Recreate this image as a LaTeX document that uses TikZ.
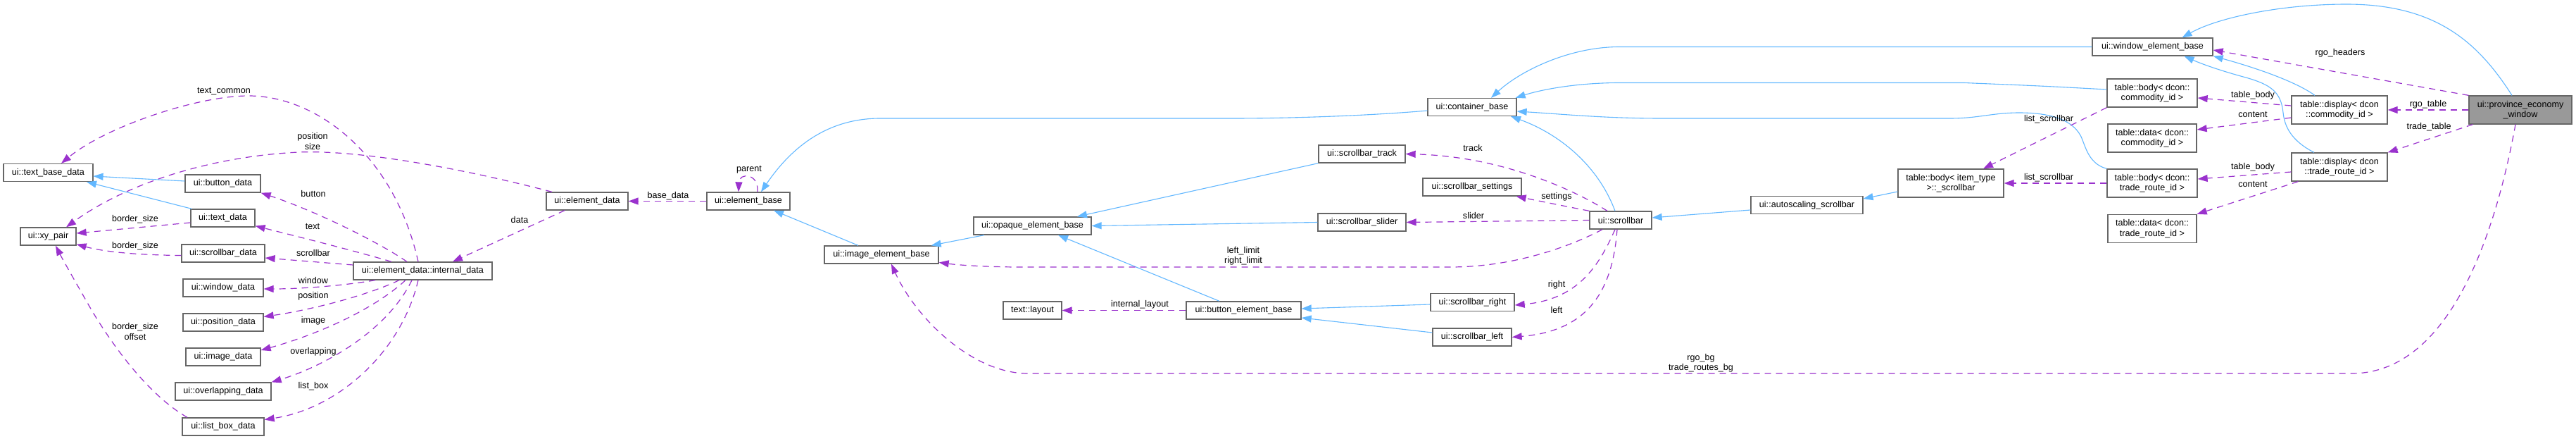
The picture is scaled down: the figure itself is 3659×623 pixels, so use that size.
\documentclass[tikz,border=0pt]{standalone}
\usepackage{fontspec}
\setmainfont{Liberation Sans}
\usetikzlibrary{arrows.meta}
\definecolor{inhblue}{HTML}{63B8FF}
\definecolor{memb}{HTML}{9A32CD}
\definecolor{boxgray}{HTML}{666666}
\definecolor{focusfill}{HTML}{999999}
\newcommand\dxfont{\fontsize{12.6}{14.5}\selectfont}
\begin{document}
\begin{tikzpicture}[x=1pt,y=-1pt,
  nd/.style={draw=boxgray, fill=white, line width=1.3pt, inner sep=0pt, minimum height=25pt, align=center, font=\dxfont},
  nd2/.style={nd, minimum height=40pt},
  lbl/.style={inner sep=0pt, align=center, font=\dxfont},
  inh/.style={draw=inhblue, line width=1.1pt, -{Triangle[length=14pt,width=10pt]}},
  mem/.style={draw=memb, line width=1.2pt, dash pattern=on 9pt off 7pt, -{Triangle[length=14pt,width=10pt]}}]
\useasboundingbox[fill=white] (0,0) rectangle (3659,623);
% nodes
\node[nd, minimum width=127] (tbd) at (68.4,245) {ui::text\_base\_data};
\node[nd, minimum width=79] (xy) at (68.5,335.5) {ui::xy\_pair};
\node[nd, minimum width=107] (btn) at (316.5,260.5) {ui::button\_data};
\node[nd, minimum width=91] (txt) at (316.5,309.5) {ui::text\_data};
\node[nd, minimum width=118] (sbd) at (317,359.5) {ui::scrollbar\_data};
\node[nd, minimum width=197] (int) at (600.5,384.5) {ui::element\_data::internal\_data};
\node[nd, minimum width=114] (wnd) at (317,408.5) {ui::window\_data};
\node[nd, minimum width=114] (pos) at (317,457.5) {ui::position\_data};
\node[nd, minimum width=106] (img) at (317,506.5) {ui::image\_data};
\node[nd, minimum width=136] (ovl) at (317,555.5) {ui::overlapping\_data};
\node[nd, minimum width=116] (lbd) at (317,605.5) {ui::list\_box\_data};
\node[nd, minimum width=116] (eld) at (834,285.5) {ui::element\_data};
\node[nd, minimum width=118] (elb) at (1063,285.5) {ui::element\_base};
\node[nd, minimum width=162] (ieb) at (1252,361.5) {ui::image\_element\_base};
\node[nd, minimum width=167] (oeb) at (1466.5,320.5) {ui::opaque\_element\_base};
\node[nd, minimum width=123] (trk) at (1934.5,218.5) {ui::scrollbar\_track};
\node[nd, minimum width=125] (sld) at (1934.5,315.5) {ui::scrollbar\_slider};
\node[nd, minimum width=83] (lay) at (1466.5,440.5) {text::layout};
\node[nd, minimum width=163] (beb) at (1766.5,440.5) {ui::button\_element\_base};
\node[nd, minimum width=126] (cnt) at (2091,152) {ui::container\_base};
\node[nd, minimum width=140] (sset) at (2091,265.5) {ui::scrollbar\_settings};
\node[nd, minimum width=88] (sb) at (2302,312.5) {ui::scrollbar};
\node[nd, minimum width=159] (asb) at (2566.5,291) {ui::autoscaling\_scrollbar};
\node[nd, minimum width=119] (sbr) at (2091.5,429) {ui::scrollbar\_right};
\node[nd, minimum width=112] (sbl) at (2091,478.5) {ui::scrollbar\_left};
\node[nd, minimum width=171] (web) at (3057.5,66.5) {ui::window\_element\_base};
\node[nd2, minimum width=128] (bcm) at (3057,132) {table::body< dcon::\\commodity\_id >};
\node[nd2, minimum width=126] (dcm) at (3057,196) {table::data< dcon::\\commodity\_id >};
\node[nd2, minimum width=150] (bit) at (2771,260) {table::body< item\_type\\>::\_scrollbar};
\node[nd2, minimum width=128] (btr) at (3057,260) {table::body< dcon::\\trade\_route\_id >};
\node[nd2, minimum width=126] (dtr) at (3057,324.5) {table::data< dcon::\\trade\_route\_id >};
\node[nd2, minimum width=136] (dsc) at (3323,156) {table::display< dcon\\::commodity\_id >};
\node[nd2, minimum width=136] (dst) at (3323,237) {table::display< dcon\\::trade\_route\_id >};
\node[nd2, minimum width=146, fill=focusfill] (pew) at (3580,156) {ui::province\_economy\\\_window};
% inheritance edges
\draw[inh] ([yshift=3.5]btn.west) -- ([yshift=-5]tbd.east);
\draw[inh] ([xshift=2]txt.north west) -- ([xshift=54.6]tbd.south);
\draw[inh] ([xshift=-33]ieb.north) -- ([xshift=36]elb.south);
\draw[inh] ([yshift=-5]cnt.west) .. controls (1960,163) and (1850,168) .. (1750,168) -- (1250,168) .. controls (1170,168) and (1120,215) .. ([xshift=18]elb.north);
\draw[inh] ([xshift=-68.5]oeb.south) -- ([xshift=-11]ieb.north east);
\draw[inh] (trk.south west) -- ([xshift=63.5]oeb.north);
\draw[inh] (sld.west) -- (oeb.east);
\draw[inh] ([xshift=-34.5]beb.north) -- ([xshift=36.5]oeb.south);
\draw[inh] ([yshift=-3]sbr.west) -- ([yshift=2.5]beb.east);
\draw[inh] ([yshift=6.5]sbl.west) -- ([yshift=-10.5]beb.east);
\draw[inh] ([xshift=-8]sb.north) .. controls (2270,235) and (2215,190) .. ([xshift=55]cnt.south);
\draw[inh] ([yshift=-7]asb.west) -- ([yshift=3.5]sb.east);
\draw[inh] ([yshift=-12]bit.west) -- ([yshift=9]asb.east);
\draw[inh] (web.west) -- (2300,66.5) .. controls (2230,66.5) and (2160,100) .. ([xshift=27]cnt.north);
\draw[inh] ([yshift=5]bcm.west) .. controls (2900,122) .. (2790,117.5) -- (2300,117.5) .. controls (2240,117.5) and (2190,127) .. ([xshift=-2]cnt.north east);
\draw[inh] (btr.north west) .. controls (2965,232) and (2962,205) .. (2955,192) .. controls (2940,165) and (2900,160) .. (2868,160) .. controls (2830,160) and (2810,168) .. (2770,168) -- (2360,168) .. controls (2280,168) and (2220,162) .. ([yshift=-6]cnt.east);
\draw[inh] ([xshift=-12]pew.north) .. controls (3520,60) and (3460,6) .. (3333,6) .. controls (3240,6) and (3150,25) .. ([xshift=42]web.north);
\draw[inh] ([xshift=-35]dsc.north) .. controls (3260,115) and (3200,95) .. (web.south east);
\draw[inh] ([xshift=-36]dst.north) .. controls (3255,200) and (3245,180) .. (3243,160) .. controls (3240,130) and (3225,120) .. (3190,110) .. controls (3160,102) and (3130,92) .. ([xshift=45]web.south);
% member edges
\draw[mem] ([xshift=-6.5]int.north) .. controls (560,220) and (450,136) .. (353,136) .. controls (280,136) and (150,180) .. ([xshift=18.6]tbd.north);
\draw[mem] ([xshift=-50]eld.north) .. controls (680,245) and (520,212) .. (424,216) .. controls (300,222) and (180,260) .. ([xshift=25.5]xy.north);
\draw[mem] ([yshift=-6.5]txt.west) -- ([yshift=4.5]xy.east);
\draw[mem] ([yshift=-3]sbd.west) .. controls (200,362) and (150,358) .. ([yshift=2]xy.south east);
\draw[mem] ([xshift=-51]lbd.north) .. controls (210,560) and (160,490) .. (130,440) .. controls (110,405) and (90,370) .. ([xshift=10.5]xy.south);
\draw[mem] ([xshift=-22.5]int.north) .. controls (540,345) and (450,300) .. (btn.south east);
\draw[mem] ([xshift=-44.5]int.north) .. controls (500,355) and (420,335) .. ([yshift=2]txt.south east);
\draw[mem] ([yshift=8.5]int.west) -- ([yshift=-6.5]sbd.east);
\draw[mem] ([xshift=-67.5]int.south) .. controls (490,405) and (430,410) .. ([yshift=-1.5]wnd.east);
\draw[mem] ([xshift=-33.5]int.south) .. controls (520,420) and (440,440) .. ([yshift=8]pos.east);
\draw[mem] ([xshift=-24.5]int.south) .. controls (530,440) and (450,475) .. ([yshift=9.5]img.east);
\draw[mem] ([xshift=-15.5]int.south) .. controls (550,470) and (460,520) .. (ovl.north east);
\draw[mem] ([xshift=-6.5]int.south) .. controls (570,500) and (480,580) .. ([yshift=10]lbd.east);
\draw[mem] ([xshift=-32]eld.south) -- ([xshift=42.5]int.north);
\draw[mem] (elb.west) -- (eld.east);
\draw[mem] ([xshift=13]elb.north) .. controls (1078,245) and (1050,245) .. ([xshift=-14]elb.north);
\draw[mem] ([xshift=-19]sb.north) .. controls (2245,275) and (2140,222) .. (trk.east);
\draw[mem] (sb.north west) .. controls (2220,292) .. ([xshift=-8]sset.south east);
\draw[mem] (sb.west) -- (sld.east);
\draw[mem] ([xshift=-26]sb.south) .. controls (2230,350) and (2150,379) .. (2060,379) -- (1450,379) .. controls (1400,379) and (1360,376) .. ([yshift=-11]ieb.east);
\draw[mem] ([xshift=-8]sb.south) .. controls (2270,380) and (2240,425) .. ([yshift=-4]sbr.east);
\draw[mem] ([xshift=-5]sb.south) .. controls (2290,420) and (2250,470) .. (sbl.east);
\draw[mem] (beb.west) -- (lay.east);
\draw[mem] (bcm.south west) -- ([xshift=46]bit.north);
\draw[mem] (btr.west) -- (bit.east);
\draw[mem] ([yshift=6]dsc.west) -- ([yshift=-7]bcm.east);
\draw[mem] ([yshift=-11]dsc.west) -- ([yshift=12]dcm.east);
\draw[mem] ([yshift=-7]dst.west) -- ([yshift=6]btr.east);
\draw[mem] ([xshift=10]dst.south west) -- (dtr.north east);
\draw[mem] (pew.north west) -- ([yshift=-4.5]web.east);
\draw[mem] (pew.west) -- (dsc.east);
\draw[mem] ([xshift=6]pew.south west) -- (dst.north east);
\draw[mem] ([xshift=-7]pew.south) .. controls (3545,330) and (3480,530) .. (3340,530) -- (1460,530) .. controls (1380,530) and (1300,450) .. ([xshift=14]ieb.south);
% labels
\node[lbl] (l1) at (318,129.5) {text\_common};
\node[lbl] (l2) at (444,200.5) {position\\size};
\node[lbl] (l3) at (192,311) {border\_size};
\node[lbl] (l4) at (192,349) {border\_size};
\node[lbl] (l5) at (192,470.5) {border\_size\\offset};
\node[lbl] (l6) at (445,275) {button};
\node[lbl] (l7) at (444,321.5) {text};
\node[lbl] (l8) at (445,359) {scrollbar};
\node[lbl] (l9) at (445,397.6) {window};
\node[lbl] (l10) at (445,420) {position};
\node[lbl] (l11) at (445,455) {image};
\node[lbl] (l12) at (445,499) {overlapping};
\node[lbl] (l13) at (445,548) {list\_box};
\node[lbl] (l14) at (738,312) {data};
\node[lbl] (l15) at (949,278) {base\_data};
\node[lbl] (l16) at (1064,241) {parent};
\node[lbl] (l17) at (1766,363) {left\_limit\\right\_limit};
\node[lbl] (l18) at (1619,432) {internal\_layout};
\node[lbl] (l19) at (2092,210) {track};
\node[lbl] (l20) at (2211,279) {settings};
\node[lbl] (l21) at (2093,306) {slider};
\node[lbl] (l22) at (2211,404) {right};
\node[lbl] (l23) at (2211,440) {left};
\node[lbl] (l24) at (2416,515) {rgo\_bg\\trade\_routes\_bg};
\node[lbl] (l25) at (2910,169) {list\_scrollbar};
\node[lbl] (l26) at (2910,252) {list\_scrollbar};
\node[lbl] (l27) at (3200,135) {table\_body};
\node[lbl] (l28) at (3200,162.5) {content};
\node[lbl] (l29) at (3200,237.5) {table\_body};
\node[lbl] (l30) at (3200,261) {content};
\node[lbl] (l31) at (3324,75.7) {rgo\_headers};
\node[lbl] (l32) at (3449,148) {rgo\_table};
\node[lbl] (l33) at (3450,180) {trade\_table};
\end{tikzpicture}
\end{document}
